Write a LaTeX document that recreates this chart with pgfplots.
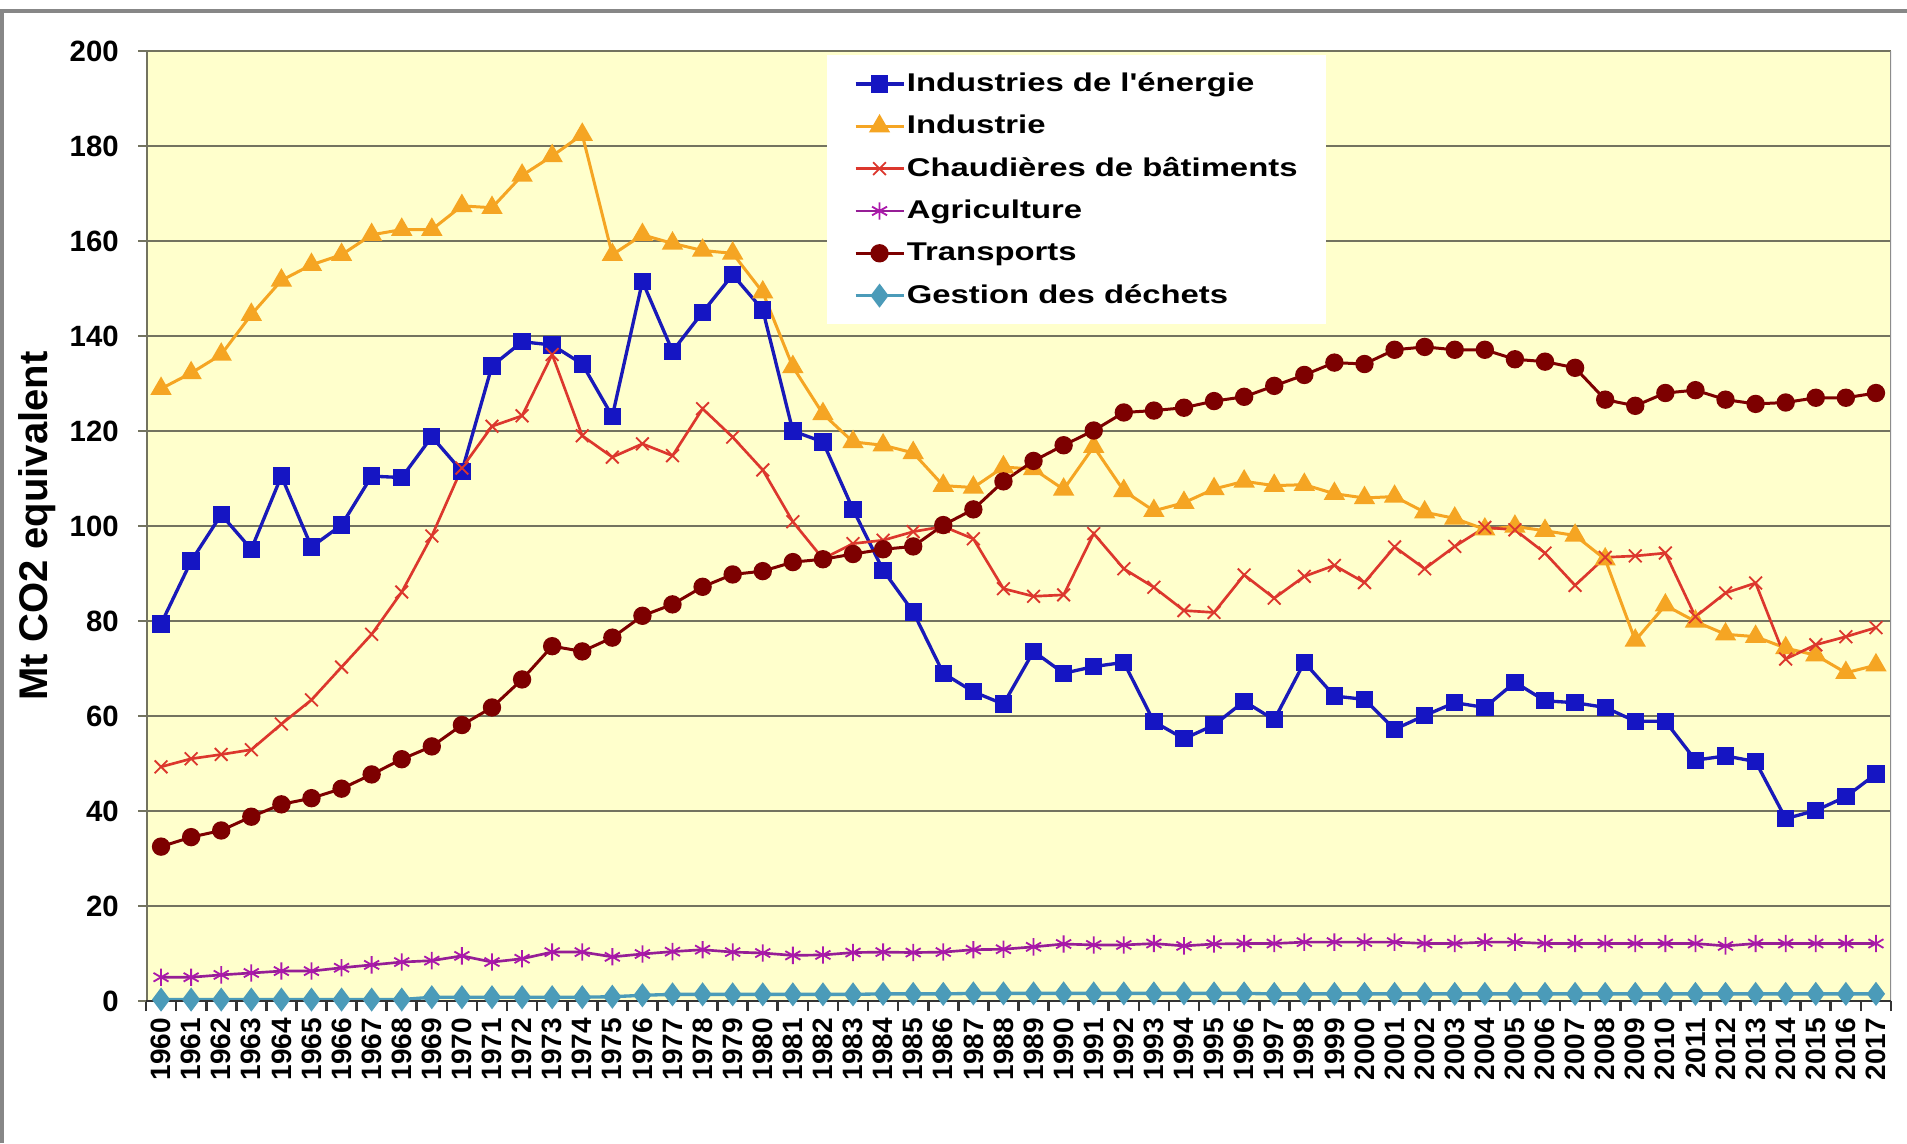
\documentclass[border=0pt]{standalone}
\usepackage{fontspec}
\setmainfont{Liberation Sans}
\newfontfamily\legfont[FakeStretch=1.28]{Liberation Sans}
\usepackage{pgfplots}
\pgfplotsset{compat=1.18}
\usepackage{pgfplotstable}
\definecolor{eblue}{RGB}{25,25,185}
\definecolor{iorange}{RGB}{245,165,35}
\definecolor{cred}{RGB}{220,55,45}
\definecolor{apurple}{RGB}{150,30,150}
\definecolor{tdark}{RGB}{125,0,0}
\definecolor{dteal}{RGB}{75,155,185}
\definecolor{bgc}{RGB}{255,255,204}
\definecolor{gridc}{RGB}{115,115,95}
\definecolor{framec}{RGB}{135,135,135}

\pgfplotstableread{
year E I C A T D
1960 79.4 128.9 49.3 5.0 32.5 0.3
1961 92.6 132.2 51.0 5.0 34.5 0.3
1962 102.4 136.1 51.9 5.5 35.9 0.3
1963 95.1 144.5 52.9 5.9 38.8 0.3
1964 110.5 151.7 58.3 6.3 41.4 0.3
1965 95.6 155.0 63.4 6.3 42.7 0.3
1966 100.2 157.1 70.3 7.0 44.7 0.3
1967 110.5 161.3 77.2 7.6 47.7 0.3
1968 110.2 162.4 86.1 8.2 50.9 0.3
1969 118.8 162.4 97.9 8.5 53.6 0.8
1970 111.5 167.4 112.2 9.5 58.1 0.8
1971 133.7 167.0 121.0 8.2 61.8 0.8
1972 138.8 173.8 123.2 8.9 67.7 0.8
1973 138.1 177.9 136.1 10.3 74.7 0.8
1974 134.1 182.4 119.0 10.3 73.6 0.8
1975 123.1 157.1 114.5 9.3 76.5 0.9
1976 151.5 161.3 117.3 9.9 81.1 1.2
1977 136.8 159.5 114.8 10.4 83.5 1.4
1978 145.0 158.0 124.7 10.8 87.2 1.4
1979 152.9 157.4 118.7 10.3 89.8 1.4
1980 145.5 149.2 111.8 10.1 90.5 1.4
1981 120.0 133.5 100.9 9.6 92.4 1.4
1982 117.7 123.6 93.1 9.7 93.0 1.4
1983 103.5 117.7 96.3 10.2 94.1 1.4
1984 90.7 117.0 97.0 10.3 95.1 1.5
1985 81.9 115.4 98.8 10.2 95.7 1.5
1986 69.0 108.5 99.9 10.3 100.2 1.5
1987 65.1 108.1 97.3 10.8 103.5 1.6
1988 62.5 112.4 86.8 10.9 109.4 1.6
1989 73.6 112.0 85.2 11.4 113.7 1.6
1990 69.0 107.7 85.5 12.0 117.0 1.6
1991 70.4 116.7 98.4 11.8 120.1 1.6
1992 71.3 107.4 91.0 11.8 123.9 1.6
1993 58.8 103.2 87.1 12.1 124.3 1.6
1994 55.2 104.9 82.2 11.6 124.9 1.6
1995 58.1 107.8 81.8 12.0 126.3 1.6
1996 63.1 109.4 89.7 12.1 127.2 1.6
1997 59.2 108.5 84.8 12.1 129.5 1.5
1998 71.3 108.7 89.4 12.4 131.8 1.5
1999 64.2 106.8 91.7 12.4 134.4 1.5
2000 63.5 105.9 88.1 12.4 134.1 1.5
2001 57.2 106.2 95.6 12.4 137.1 1.5
2002 60.1 102.9 91.0 12.1 137.7 1.5
2003 62.8 101.6 95.7 12.1 137.1 1.5
2004 61.8 99.3 99.7 12.4 137.1 1.5
2005 67.1 99.9 99.2 12.4 135.1 1.5
2006 63.2 99.0 94.3 12.1 134.6 1.5
2007 62.8 98.0 87.5 12.1 133.3 1.5
2008 61.8 93.0 93.4 12.1 126.6 1.5
2009 58.9 75.9 93.7 12.1 125.3 1.5
2010 58.9 83.3 94.3 12.1 128.0 1.5
2011 50.7 79.9 80.9 12.1 128.6 1.5
2012 51.6 77.2 85.9 11.6 126.6 1.5
2013 50.4 76.7 88.0 12.1 125.7 1.5
2014 38.4 74.3 72.0 12.1 126.0 1.5
2015 40.1 72.8 75.0 12.1 127.0 1.5
2016 43.0 69.1 76.7 12.1 127.0 1.5
2017 47.8 70.7 78.6 12.1 128.0 1.5
}\data

\begin{document}
\begin{tikzpicture}
\path[use as bounding box, fill=white] (0pt,0pt) rectangle (572.1pt,342.9pt);
\draw[framec, line width=1.1pt] (0.6pt,0pt) -- (0.6pt,339.5pt) -- (572.1pt,339.5pt);
\begin{axis}[
  at={(43.8pt,42.6pt)}, anchor=south west,
  scale only axis, width=523.5pt, height=285pt,
  xmin=1959.5, xmax=2017.5, ymin=0, ymax=200,
  axis background/.style={fill=bgc},
  axis line style={draw=none},
  /pgf/number format/1000 sep={},
  /pgf/number format/assume math mode=true,
  xtick={1960,1961,...,2017},
  minor xtick={1959.5,1960.5,...,2017.5},
  ytick={0,20,...,200},
  tick pos=left,
  tick align=outside,
  major tick length=2.4pt,
  minor tick length=3pt,
  every major x tick/.append style={draw=none},
  every minor x tick/.append style={draw=black!80, line width=0.8pt},
  every major y tick/.append style={draw=gridc, line width=0.8pt},
  ymajorgrids,
  major grid style={draw=gridc, line width=0.75pt},
  xticklabel style={font=\bfseries\fontsize{8.4}{10}\selectfont, yshift=-2.5pt, rotate=90, anchor=east, inner sep=0pt},
  yticklabel style={font=\bfseries\fontsize{8.8}{10}\selectfont, anchor=east, inner sep=0pt, xshift=-5.6pt},
  ylabel={Mt CO2 equivalent},
  every axis y label/.style={at={(axis description cs:-0.0623,0.5)}, rotate=90, anchor=center, font=\bfseries\fontsize{12}{14}\selectfont},
  legend style={at={(0.390,0.996)}, anchor=north west, draw=none, fill=white,
    inner xsep=8pt, inner ysep=4pt, row sep=3.6pt,
    font=\legfont\bfseries\fontsize{7.7}{8}\selectfont,
    nodes={inner sep=0.5pt, text height=6.3pt, text depth=1.8pt}},
  legend cell align=left,
  legend image code/.code={\draw[mark repeat=2,mark phase=2,#1] plot coordinates {(0pt,0pt) (7.2pt,0pt) (14.4pt,0pt)};},
]
\addplot[eblue, line width=1pt, mark=square*, mark size=2.1pt, mark options={fill=eblue!85!blue, draw=eblue!85!blue, solid}] table[x=year,y=E] {\data};
\addlegendentry{Industries de l'énergie}
\addplot[iorange, line width=0.9pt, mark=triangle*, mark size=2.8pt, mark options={fill=iorange, solid}] table[x=year,y=I] {\data};
\addlegendentry{Industrie}
\addplot[cred, line width=0.8pt, mark=x, mark size=2.7pt, mark options={solid, line width=0.55pt}] table[x=year,y=C] {\data};
\addlegendentry{Chaudières de bâtiments}
\addplot[apurple, line width=0.8pt, mark=asterisk, mark size=2.6pt, mark options={solid, line width=0.55pt, draw=apurple!80!magenta}] table[x=year,y=A] {\data};
\addlegendentry{Agriculture}
\addplot[tdark, line width=0.9pt, mark=*, mark size=2.3pt, mark options={fill=tdark, solid}] table[x=year,y=T] {\data};
\addlegendentry{Transports}
\addplot[dteal, line width=1pt, mark=diamond*, mark size=2.8pt, mark options={fill=dteal, solid}] table[x=year,y=D] {\data};
\addlegendentry{Gestion des déchets}
\draw[gridc, line width=1pt] (rel axis cs:0,0) -- (rel axis cs:0,1);
\draw[black!45, line width=0.6pt] (rel axis cs:1,0) -- (rel axis cs:1,1);
\draw[black!80, line width=0.8pt] (rel axis cs:0,0) -- (rel axis cs:1,0);
\end{axis}
\end{tikzpicture}
\end{document}
